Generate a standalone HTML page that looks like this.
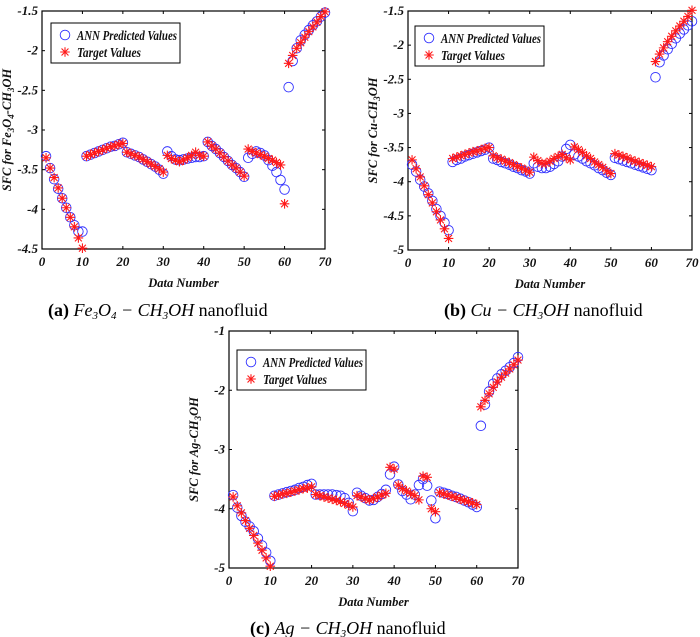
<!DOCTYPE html>
<html><head><meta charset="utf-8">
<style>
body{margin:0;background:#fff;}
svg{display:block;font-family:"Liberation Serif",serif;}
.tick{font-size:13px;font-weight:bold;font-style:italic;fill:#111;}
.lab{font-size:12.5px;font-weight:bold;font-style:italic;fill:#111;}
.leg{font-size:14px;font-weight:bold;font-style:italic;fill:#111;}
.cap{font-size:18px;fill:#000;}
</style></head>
<body>
<svg id="fig" width="700" height="637" viewBox="0 0 700 637">
<text class="cap" x="48" y="316"><tspan font-weight="bold">(a)</tspan>  <tspan font-style="italic">Fe<tspan font-size="11" dy="3">3</tspan><tspan dy="-3">O</tspan><tspan font-size="11" dy="3">4</tspan><tspan dy="-3"> − CH</tspan><tspan font-size="11" dy="3">3</tspan><tspan dy="-3">OH</tspan></tspan> nanofluid</text>
<text class="cap" x="444" y="316"><tspan font-weight="bold">(b)</tspan>  <tspan font-style="italic">Cu − CH<tspan font-size="11" dy="3">3</tspan><tspan dy="-3">OH</tspan></tspan>  nanofluid</text>
<text class="cap" x="250" y="634"><tspan font-weight="bold">(c)</tspan>  <tspan font-style="italic">Ag − CH<tspan font-size="11" dy="3">3</tspan><tspan dy="-3">OH</tspan></tspan>  nanofluid</text>
</svg>
<script>
const xTicks=[0,10,20,30,40,50,60,70];
const dataNumbers=Array.from({length:70},(_,i)=>i+1);
const aTicks=[-1.5,-2,-2.5,-3,-3.5,-4,-4.5];
const aTarget=[-3.35,-3.48,-3.6,-3.73,-3.86,-3.98,-4.1,-4.22,-4.36,-4.49,
-3.33,-3.31,-3.29,-3.27,-3.25,-3.23,-3.21,-3.2,-3.18,-3.17,
-3.28,-3.3,-3.32,-3.34,-3.37,-3.4,-3.43,-3.46,-3.49,-3.53,
-3.32,-3.36,-3.38,-3.4,-3.38,-3.35,-3.32,-3.28,-3.32,-3.33,
-3.15,-3.2,-3.24,-3.29,-3.34,-3.39,-3.44,-3.48,-3.53,-3.58,
-3.24,-3.27,-3.29,-3.31,-3.33,-3.36,-3.38,-3.41,-3.44,-3.93,
-2.16,-2.06,-1.97,-1.9,-1.83,-1.76,-1.7,-1.64,-1.57,-1.51];
const aPred=[-3.33,-3.48,-3.62,-3.74,-3.86,-3.98,-4.1,-4.2,-4.28,-4.28,
-3.33,-3.31,-3.29,-3.27,-3.25,-3.23,-3.21,-3.2,-3.18,-3.16,
-3.28,-3.3,-3.32,-3.34,-3.37,-3.4,-3.43,-3.46,-3.5,-3.55,
-3.27,-3.33,-3.37,-3.38,-3.37,-3.36,-3.35,-3.34,-3.34,-3.33,
-3.15,-3.2,-3.24,-3.29,-3.34,-3.39,-3.44,-3.48,-3.53,-3.59,
-3.35,-3.3,-3.27,-3.29,-3.32,-3.38,-3.45,-3.53,-3.63,-3.75,
-2.46,-2.13,-1.97,-1.87,-1.8,-1.74,-1.68,-1.63,-1.57,-1.52];
const bTicks=[-1.5,-2,-2.5,-3,-3.5,-4,-4.5,-5];
const bTarget=[-3.68,-3.81,-3.93,-4.06,-4.19,-4.31,-4.44,-4.56,-4.69,-4.83,
-3.66,-3.64,-3.62,-3.6,-3.58,-3.56,-3.55,-3.53,-3.51,-3.5,
-3.62,-3.65,-3.67,-3.7,-3.72,-3.75,-3.78,-3.8,-3.83,-3.86,
-3.64,-3.69,-3.73,-3.73,-3.7,-3.66,-3.63,-3.6,-3.65,-3.68,
-3.49,-3.53,-3.57,-3.62,-3.66,-3.71,-3.75,-3.79,-3.84,-3.88,
-3.59,-3.61,-3.63,-3.65,-3.68,-3.7,-3.72,-3.74,-3.76,-3.78,
-2.24,-2.13,-2.04,-1.95,-1.87,-1.79,-1.72,-1.65,-1.58,-1.49];
const bPred=[-3.75,-3.85,-3.97,-4.07,-4.17,-4.28,-4.4,-4.5,-4.6,-4.71,
-3.71,-3.68,-3.66,-3.63,-3.61,-3.59,-3.57,-3.55,-3.53,-3.5,
-3.66,-3.68,-3.71,-3.73,-3.75,-3.78,-3.8,-3.83,-3.85,-3.88,
-3.73,-3.78,-3.8,-3.8,-3.78,-3.74,-3.7,-3.63,-3.52,-3.46,
-3.6,-3.63,-3.66,-3.7,-3.73,-3.76,-3.8,-3.83,-3.87,-3.9,
-3.65,-3.67,-3.69,-3.71,-3.73,-3.75,-3.77,-3.79,-3.81,-3.83,
-2.47,-2.25,-2.15,-2.06,-1.98,-1.9,-1.83,-1.77,-1.71,-1.65];
const cTicks=[-1,-2,-3,-4,-5];
const cTarget=[-3.8,-3.95,-4.07,-4.2,-4.33,-4.45,-4.58,-4.7,-4.83,-4.97,
-3.79,-3.77,-3.75,-3.74,-3.72,-3.7,-3.68,-3.66,-3.65,-3.63,
-3.76,-3.78,-3.8,-3.82,-3.84,-3.86,-3.88,-3.91,-3.94,-3.97,
-3.78,-3.8,-3.83,-3.85,-3.83,-3.8,-3.77,-3.74,-3.3,-3.33,
-3.6,-3.66,-3.7,-3.74,-3.78,-3.85,-3.45,-3.47,-4.0,-4.05,
-3.73,-3.75,-3.77,-3.79,-3.81,-3.84,-3.86,-3.88,-3.9,-3.93,
-2.28,-2.17,-2.06,-1.95,-1.86,-1.78,-1.71,-1.64,-1.57,-1.49];
const cPred=[-3.77,-3.98,-4.12,-4.22,-4.3,-4.38,-4.5,-4.62,-4.74,-4.88,
-3.78,-3.76,-3.74,-3.72,-3.7,-3.68,-3.65,-3.63,-3.6,-3.58,
-3.76,-3.76,-3.76,-3.76,-3.76,-3.77,-3.78,-3.82,-3.9,-4.04,
-3.73,-3.78,-3.82,-3.86,-3.85,-3.8,-3.75,-3.68,-3.42,-3.29,
-3.59,-3.7,-3.76,-3.84,-3.76,-3.6,-3.5,-3.61,-3.86,-4.16,
-3.71,-3.73,-3.75,-3.78,-3.8,-3.83,-3.86,-3.89,-3.93,-3.97,
-2.6,-2.24,-2.02,-1.89,-1.8,-1.73,-1.67,-1.61,-1.54,-1.44];

const NS="http://www.w3.org/2000/svg";
const svg=document.getElementById('fig');
function mk(tag,attrs,parent,txt){const e=document.createElementNS(NS,tag);for(const k in attrs)e.setAttribute(k,attrs[k]);if(txt!==undefined)e.textContent=txt;(parent||svg).appendChild(e);return e;}
function star(x,y,h){const d=h*0.72;return `M${x-h} ${y}H${x+h}M${x} ${y-h}V${y+h}M${x-d} ${y-d}L${x+d} ${y+d}M${x-d} ${y+d}L${x+d} ${y-d}`;}

function plot(id,L,R,T,B,ymax,ymin,yt,target,pred,ylabel,leg){
  const g=mk('g',{});
  
  
  const xs=v=>L+(v-0)/70*(R-L);
  const ys=v=>T+(ymax-v)/(ymax-ymin)*(B-T);
  const box=mk('rect',{x:L,y:T,width:R-L,height:B-T,fill:'none',stroke:'#000','stroke-width':1.2},g);
  
  
  xTicks.forEach(t=>{
    const x=xs(t);
    mk('line',{x1:x,y1:B,x2:x,y2:B-3,stroke:'#000'},g);
    mk('line',{x1:x,y1:T,x2:x,y2:T+3,stroke:'#000'},g);
    const tx=mk('text',{x:x,y:B+17,'text-anchor':'middle',class:'tick'},g,String(t));
    
    
  });
  yt.forEach(t=>{
    const y=ys(t);
    mk('line',{x1:L,y1:y,x2:L+3,y2:y,stroke:'#000'},g);
    mk('line',{x1:R,y1:y,x2:R-3,y2:y,stroke:'#000'},g);
    const tx=mk('text',{x:L-4,y:y+4,'text-anchor':'end',class:'tick'},g,String(t));
    
    
  });
  const xl=mk('text',{x:(L+R)/2,y:B+38,'text-anchor':'middle',class:'lab'},g,'Data Number');
  
  
  const yl=mk('text',{x:0,y:0,'text-anchor':'middle',class:'lab',transform:`translate(${L-31},${(T+B)/2}) rotate(-90)`},g);
  
  
  ylabel.forEach(p=>{mk('tspan',p[1]?{'font-size':9,dy:3}:{dy:p[2]||0},yl,p[0]);});
  pred.forEach((v,i)=>{
    const c=mk('circle',{cx:xs(dataNumbers[i]),cy:ys(v),r:4.8,fill:'none',stroke:'#3030ff','stroke-width':0.9},g);
    
    
  });
  target.forEach((v,i)=>{
    const s=mk('path',{d:star(xs(dataNumbers[i]),ys(v),4.8),stroke:'#ff1a1a','stroke-width':1.1},g);
    
    
  });
  const lg=mk('g',{},g);
  
  
  mk('rect',{x:leg[0],y:leg[1],width:129,height:40,fill:'#fff',stroke:'#000','stroke-width':1},lg);
  mk('circle',{cx:leg[0]+14,cy:leg[1]+12,r:4.8,fill:'none',stroke:'#3030ff','stroke-width':0.9},lg);
  mk('path',{d:star(leg[0]+14,leg[1]+29,4.8),stroke:'#ff1a1a','stroke-width':1.1},lg);
  const t1=mk('text',{x:leg[0]+26,y:leg[1]+17,class:'leg',textLength:100,lengthAdjust:'spacingAndGlyphs'},lg,'ANN Predicted Values');
  
  
  const t2=mk('text',{x:leg[0]+26,y:leg[1]+34,class:'leg',textLength:64,lengthAdjust:'spacingAndGlyphs'},lg,'Target Values');
  
  
}
plot('a',42,325,11,249,-1.5,-4.5,aTicks,aTarget,aPred,[['SFC for Fe'],['3',1],['O',0,-3],['4',1],['-CH',0,-3],['3',1],['OH',0,-3]],[51,23]);
plot('b',408,692,11,250,-1.5,-5,bTicks,bTarget,bPred,[['SFC for Cu-CH'],['3',1],['OH',0,-3]],[415,26]);
plot('c',229,518,331,568,-1,-5,cTicks,cTarget,cPred,[['SFC for Ag-CH'],['3',1],['OH',0,-3]],[237,350]);
</script>
</body></html>
